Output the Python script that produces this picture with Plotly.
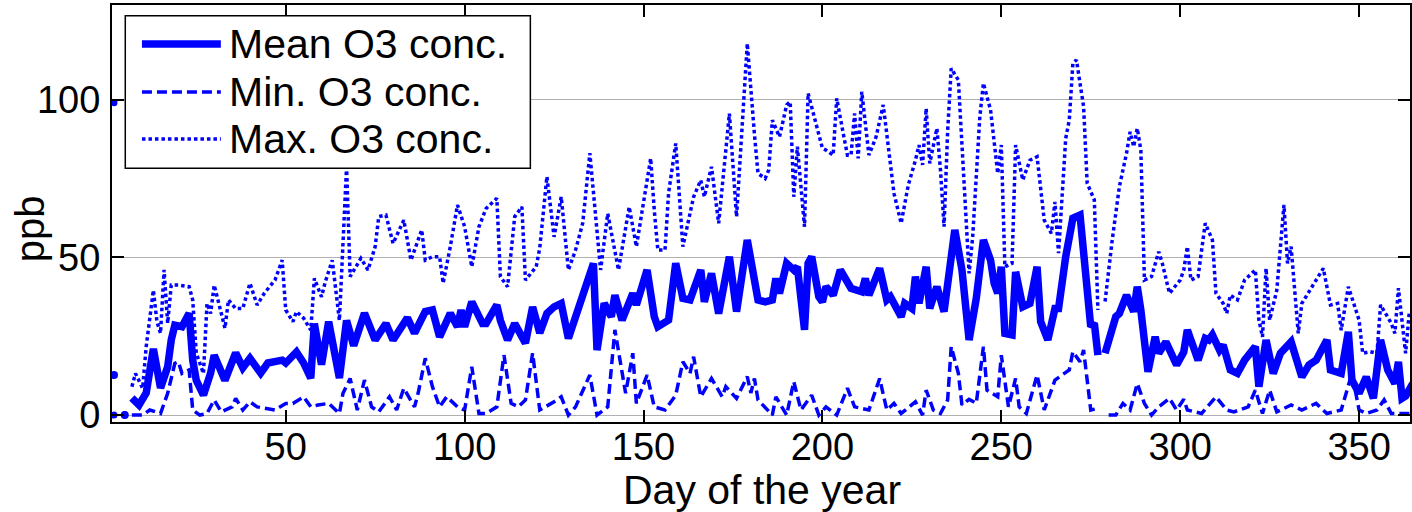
import plotly.graph_objects as go

# ---------------- data ----------------
mean_days = [2, 3, 5, 6, 7, 9, 11, 13, 15, 17, 18, 19, 21, 23, 24, 25, 27, 29, 30, 32, 33, 36, 38, 40, 43, 45, 47, 49, 50,
             53, 55, 57, 58, 60, 62, 65, 67, 69, 72, 75, 78, 80, 84, 86, 89, 91, 93, 96, 98, 99, 100, 102, 105, 106, 109,
             110, 112, 114, 117, 119, 121, 123, 125, 127, 129, 132, 136, 137, 139, 141, 142, 144, 147, 148, 151, 153,
             154, 157, 159, 161, 163, 166, 167, 169, 171, 174, 176, 179, 180, 182, 184, 186, 187, 188, 190, 192, 193,
             195, 196, 197, 199, 200, 201, 203, 205, 206, 208, 211, 212, 213, 216, 218, 219, 222, 223, 225, 226, 227,
             229, 230, 232, 234, 237, 239, 241, 243, 245, 247, 248, 249, 250, 251, 253, 254, 256, 258, 260, 261, 263,
             265, 266, 268, 269, 270, 272, 274, 275, 276, 277, 278, 279, 282, 283, 285, 287, 288, 289, 291, 293, 294,
             296, 299, 301, 302, 305, 307, 308, 309, 311, 312, 314, 316, 318, 321, 322, 324, 326, 328, 331, 334, 336,
             338, 341, 342, 345, 347, 348, 350, 352, 354, 356, 358, 360, 361, 362, 363, 365]
mean_vals = [12.7, None, 0, None, 5.4, 3.2, 7, 21, 8.6, 15.3, 23.8, 28.5, 28, 32.3, 17.4, 11, 6.3, 13.3, 19, 14.3, 11,
             19.7, 15, 18, 13.3, 16.5, 16.9, 17.4, 16.5, 20, 16.5, 11.7, 29, 16, 29.6, 11.7, 30, 22, 32.3, 23.8, 29,
             23.8, 30.8, 26, 32.8, 33.3, 24.8, 32.3, 28, 33.3, 28, 35.9, 29, 29, 34.9, 30, 23.8, 29, 22.8, 34.3, 26,
             32.2, 34.3, 35.4, 24.3, 34.3, 48.1, 20.6, 35.4, 31.2, 38, 30.1, 38.6, 34.9, 46, 31.2, 28, 30.1, 48.1, 37,
             36.5, 46, 35.9, 44.9, 32.2, 50.2, 32.8, 55.5, 50, 36.5, 35.9, 36.5, 43.3, 38.6, 48.1, 46, 47, 27, 48.1,
             50.2, 37.5, 35.9, 40.7, 38, 46, 43.9, 40.2, 39.1, 43.3, 38, 46.5, 36.5, 37.5, 31.2, 35.4, 33.8, 43.9, 35.4,
             47, 33.8, 40.7, 32.8, 58.7, 46, 23.8, 37, 55.5, 49.1, 41.8, 38.6, 47, 25.9, 25.4, 45.4, 34.3, 35.4, 47,
             29.6, 23.8, 33.8, 33.8, 50.2, 56.5, 62.4, 63.4, 41.8, 28, 29.1, 19, None, 19.6, 31.2, 32.2, 38, 32.8, 40.7,
             33.3, 13.7, 24.8, 19.6, 23.2, 15.9, 20, 27, 17.4, 24.3, 23.8, 25.4, 20.6, 22.2, 14.3, 13.2, 17.4, 21.7, 9,
             23.8, 13.2, 19.6, 23.2, 12.1, 15.9, 17.4, 23.8, 14.3, 13.2, 26.4, 11.1, 6.9, 12.1, 5.3, 23.8, 14.3, 10,
             16.9, 5.3, 6, 10]

min_days = [2, 3, 5, 6, 7, 10, 12, 15, 17, 19, 20, 21, 23, 24, 26, 28, 30, 32, 35, 36, 38, 40, 42, 45, 47, 50, 52, 55,
            57, 59, 62, 65, 66, 68, 70, 72, 74, 76, 79, 81, 83, 86, 87, 89, 91, 93, 95, 98, 100, 102, 104, 106, 109,
            111, 113, 115, 117, 119, 121, 125, 127, 129, 131, 135, 137, 140, 142, 145, 147, 148, 151, 153, 156, 159,
            161, 163, 164, 166, 169, 172, 173, 176, 179, 180, 181, 182, 186, 187, 190, 192, 194, 197, 199, 201, 204,
            207, 209, 213, 216, 218, 220, 222, 226, 228, 229, 231, 233, 235, 236, 238, 239, 241, 243, 245, 246, 249,
            250, 252, 254, 255, 257, 260, 262, 265, 269, 270, 272, 273, 275, 277, 278, 280, 282, 284, 286, 288, 290,
            292, 294, 297, 299, 301, 302, 306, 310, 313, 315, 319, 321, 323, 325, 327, 331, 334, 338, 341, 345, 348,
            350, 352, 355, 357, 359, 363, 365]
min_vals = [0, None, 0, None, 0, 0, 1.6, 0.5, 6.9, 16.4, 16.9, 13.2, 14.3, 1.6, 0, 0.5, 4.8, 1, 2.6, 5.3, 1.6, 4.2,
            2.6, 2.1, 1.6, 3.7, 3.7, 5.8, 2.6, 3.2, 3.7, 0.5, 6.9, 11.6, 1.6, 11.1, 2.6, 1, 5.8, 1.6, 8.5, 2.6, 6.9,
            18, 9, 2.6, 5.8, 2.6, 1.6, 15.3, 0.5, 0.5, 2.6, 19, 3.7, 2.6, 4.8, 19.6, 1.6, 4.2, 5.8, 0, 2.6, 12.7, 0,
            2.6, 27, 6.9, 19.6, 3.7, 12.7, 2.6, 1.6, 6.3, 16.9, 13.2, 18.5, 5.8, 11.6, 5.8, 9, 5.3, 12.2, 7, 11.6,
            4.8, 0, 5.8, 0, 10.6, 1.6, 6.3, 0, 2.6, 0, 8.5, 2.6, 1.6, 11.6, 1.6, 3.7, 0.5, 4.2, 0, 7.9, 1.6, 0.5, 4.8,
            21.7, 13.2, 3.2, 5, 3.7, 21.7, 7.9, 5.8, 19, 2.6, 11.6, 2.6, 0.5, 12.7, 1.6, 11.1, 14.3, 20.1, 16.9, 20.6,
            1.6, 2.1, None, 0, 0, 3.7, 1.6, 10, 3.7, 0, 2.6, 5.3, 1.6, 5, 1.6, 0.5, 5.8, 1.6, 1, 2.6, 7.9, 0.5, 7.9,
            1, 3.2, 1.6, 3.7, 0.5, 1.6, 13.2, 1.6, 0.5, 1.6, 4.8, 0.5, 0.5, 0.5]

max_days = [2, 3, 7, 8, 10, 11, 13, 14, 15, 16, 17, 18, 20, 23, 24, 25, 27, 28, 29, 30, 32, 33, 34, 36, 38, 40, 42, 44,
            47, 49, 50, 52, 53, 55, 57, 58, 60, 61, 63, 65, 67, 68, 71, 73, 75, 76, 78, 80, 83, 85, 88, 89, 91, 93, 94,
            96, 98, 100, 102, 104, 106, 109, 110, 112, 114, 116, 117, 120, 121, 123, 125, 127, 129, 131, 133, 135,
            138, 140, 143, 146, 148, 152, 153, 154, 156, 157, 159, 161, 164, 166, 167, 169, 171, 174, 176, 179, 181,
            182, 184, 185, 186, 188, 190, 191, 192, 193, 195, 196, 200, 201, 203, 204, 206, 207, 208, 209, 210, 211,
            213, 215, 217, 219, 220, 222, 224, 226, 227, 228, 229, 230, 232, 233, 234, 235, 236, 238, 240, 241, 242,
            243, 244, 245, 247, 249, 250, 251, 253, 254, 256, 258, 260, 262, 264, 265, 266, 268, 269, 270, 271, 273,
            274, 276, 277, 278, 279, 281, 283, 285, 286, 287, 288, 289, 290, 292, 294, 295, 297, 300, 301, 302, 303,
            305, 307, 309, 310, 312, 313, 314, 316, 318, 321, 322, 323, 324, 325, 327, 329, 330, 331, 333, 334, 336,
            338, 340, 342, 344, 345, 347, 350, 351, 353, 355, 356, 359, 360, 361, 363, 364, 365]
max_vals = [99, None, 9, 13.2, 8.5, 21.7, 39.6, 29.6, 25.9, 46, 29.1, 41.2, 41.2, 40.7, 36.5, 19.6, 13.2, 35.4, 32.2,
            41.2, 32.2, 27.5, 36.5, 33.8, 33.8, 41.8, 34.9, 38.6, 42.8, 49.1, 33.3, 29.6, 32.8, 30.7, 26.9, 43.3, 37.5,
            42, 49.1, 30, 78.7, 43.9, 49.7, 46, 53.4, 62.9, 63.4, 54.4, 61.8, 49.1, 58.7, 49.1, 50.2, 50.2, 41.8, 53.4,
            66.6, 59.7, 47, 59.7, 65.5, 68.7, 43.9, 40.7, 62.9, 66, 42.8, 47, 53, 75.6, 56.5, 69.2, 46, 52.3, 60.8, 83,
            46, 63.9, 46, 66, 53.4, 81.4, 65, 52.3, 52.3, 70.3, 86.1, 53.4, 69.2, 74.5, 69.2, 78.7, 60.8, 95.6, 62.9,
            117.8, 89, 76.6, 75, 77.7, 93.5, 88.2, 98.3, 99.3, 69.2, 85.1, 59.7, 102, 84.6, 84, 82.4, 100.4, 88.2,
            82.4, 82.4, 95.6, 81.4, 102.5, 82.4, 88.2, 98.3, 79.8, 70.3, 60.8, 72.9, 80.8, 85.6, 79.3, 97.2, 79.8,
            90.9, 77.7, 59.7, 90, 109.9, 106.2, 63.9, 44.9, 56.5, 77.7, 94.6, 105.2, 96.7, 76.6, 85.6, 47, 48.1, 85.6,
            74.5, 80.8, 81.9, 61.8, 57.6, 67.6, 51.3, 87.7, 93.5, 111.5, 112.6, 97.8, 73.5, 68.2, 33.3, None, 36, 55.5,
            72.4, 83, 89.8, 85.1, 90.9, 84, 42.8, 43.9, 51.8, 48.1, 38.6, 42.8, 46, 53.4, 42.8, 43.9, 60.8, 55.5, 38.6,
            35.4, 32.2, 38, 36.5, 42.8, 46, 30.1, 24.8, 46.5, 30.1, 39.6, 66.6, 48.1, 53.4, 25.9, 35.4, 39.1, 42.3,
            46.5, 34.9, 35.4, 26.9, 40.7, 30.1, 19.6, 20.1, 19.6, 34.9, 29.1, 25.9, 40.2, 19.6, 32.2, 33]

x_ticks = [50, 100, 150, 200, 250, 300, 350]
y_ticks = [0, 50, 100]
legend_labels = ["Mean O3 conc.", "Min. O3 conc.", "Max. O3 conc."]

# ---------------- styling ----------------
BLUE = "#0000FF"
FONT = "Liberation Sans, Arial, sans-serif"
W, H = 1412, 512
ML, MR, MT, MB = 112, 0, 5, 90
PW, PH = W - ML - MR, H - MT - MB


def px_x(px):
    return (px - ML) / PW


def px_y(py):
    return (H - MB - py) / PH


def isolated_sizes(vals, size):
    out = []
    for i, v in enumerate(vals):
        prev_none = i == 0 or vals[i - 1] is None
        next_none = i == len(vals) - 1 or vals[i + 1] is None
        out.append(size if (v is not None and prev_none and next_none) else 0)
    return out


styles = [
    (mean_days, mean_vals, 7.5, "solid", 8),
    (min_days, min_vals, 3.5, "10px,5px", 7),
    (max_days, max_vals, 3.5, "3.5px,3px", 7),
]

fig = go.Figure()
for (days, vals, lw, dash, msize), name in zip(styles, legend_labels):
    fig.add_trace(go.Scatter(
        x=days, y=vals, name=name, mode="lines+markers",
        line=dict(color=BLUE, width=lw, dash=dash),
        marker=dict(color=BLUE, size=isolated_sizes(vals, msize), line=dict(width=0), opacity=1),
        connectgaps=False, showlegend=False,
    ))

axis_common = dict(
    showline=True, linecolor="black", linewidth=2, mirror="ticks",
    ticks="inside", ticklen=12, tickwidth=1.5, tickcolor="black",
    tickfont=dict(family=FONT, size=38, color="black"), zeroline=False,
)

fig.update_layout(
    width=W, height=H,
    margin=dict(l=ML, r=MR, t=MT, b=MB, pad=0),
    paper_bgcolor="white", plot_bgcolor="white",
    showlegend=False,
    xaxis=dict(range=[1.44, 364.23], tickvals=x_ticks, showgrid=False,
               ticklabelstandoff=-10, **axis_common),
    yaxis=dict(range=[-2.2, 130], tickvals=y_ticks, showgrid=True,
               gridcolor="#b0b0b0", gridwidth=1, ticklabelstandoff=2, **axis_common),
)

# axis titles
fig.add_annotation(text="Day of the year", xref="paper", yref="paper",
                   x=px_x(763), y=px_y(490), xanchor="center", yanchor="middle",
                   showarrow=False, font=dict(family=FONT, size=41, color="black"))
fig.add_annotation(text="ppb", xref="paper", yref="paper", textangle=-90,
                   x=px_x(30), y=px_y(229), xanchor="center", yanchor="middle",
                   showarrow=False, font=dict(family=FONT, size=40, color="black"))

# legend box (MATLAB style)
fig.add_shape(type="rect", xref="paper", yref="paper",
              x0=px_x(125.3), x1=px_x(531), y0=px_y(168.3), y1=px_y(15.7),
              line=dict(color="black", width=1.5), fillcolor="white", layer="above")
rows = [44, 92, 139]
for (days, vals, lw, dash, msize), name, ry in zip(styles, legend_labels, rows):
    fig.add_shape(type="line", xref="paper", yref="paper",
                  x0=px_x(142), x1=px_x(221), y0=px_y(ry), y1=px_y(ry),
                  line=dict(color=BLUE, width=lw, dash=dash), layer="above")
    fig.add_annotation(text=name, xref="paper", yref="paper",
                       x=px_x(227), y=px_y(ry), xanchor="left", yanchor="middle",
                       showarrow=False, font=dict(family=FONT, size=41, color="black"))

fig.write_html("out.html")
